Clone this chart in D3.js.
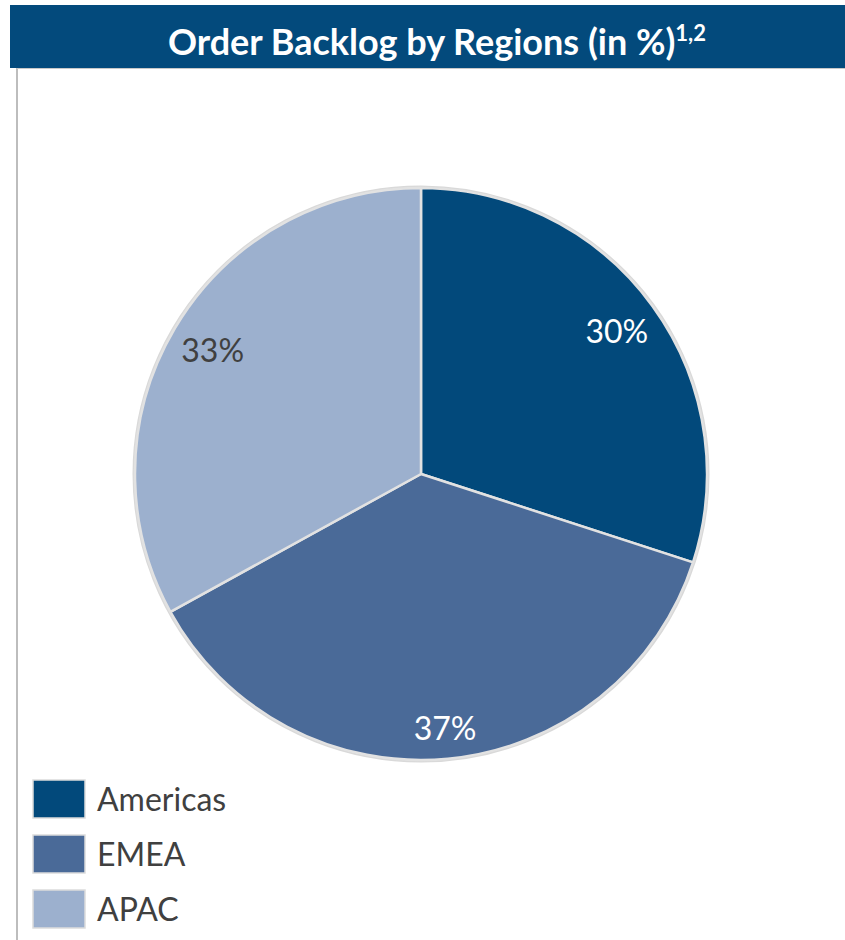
<!DOCTYPE html>
<html>
<head>
    <meta charset="utf-8">
    <title>Order Backlog by Regions</title>
    <style type="text/css">
        body { margin: 0; background: #fff; }
        svg text { font-family: "Lato", "DejaVu Sans", sans-serif; }
    </style>
</head>
<body>
<div id="chart"></div>
<script src="https://cdn.jsdelivr.net/npm/d3@7"></script>
<script type="text/javascript">
    // 数据
    var regions = ["Americas", "EMEA", "APAC"];
    var shares = [30, 37, 33];
    var colors = ["#02497b", "#4a6a98", "#9cb0ce"];
    var labelColors = ["#ffffff", "#ffffff", "#404040"];

    var width = 845, height = 940;
    var cx = 421, cy = 474, radius = 286;

    var svg = d3.select("#chart").append("svg")
        .attr("width", width)
        .attr("height", height);

    // 标题栏
    svg.append("rect")
        .attr("x", 10).attr("y", 5)
        .attr("width", width - 10).attr("height", 63)
        .attr("fill", "#034a7c");
    svg.append("line")
        .attr("x1", 17).attr("x2", 17)
        .attr("y1", 68).attr("y2", height)
        .attr("stroke", "#bdbdbd").attr("stroke-width", 2);
    svg.append("line")
        .attr("x1", 17).attr("x2", width)
        .attr("y1", 68.5).attr("y2", 68.5)
        .attr("stroke", "#c8c8c8").attr("stroke-width", 1);

    var title = svg.append("text")
        .attr("x", 437).attr("y", 55)
        .attr("text-anchor", "middle")
        .attr("fill", "#fff")
        .attr("font-weight", "bold")
        .attr("font-size", 36);
    title.append("tspan").text("Order Backlog by Regions (in %)");
    title.append("tspan").attr("font-size", 22).attr("dy", -14).text("1,2");

    // 饼图
    var pie = d3.pie().sort(null).value(function (d) { return d; });
    var arc = d3.arc().innerRadius(0).outerRadius(radius);
    var labelArc = d3.arc().innerRadius(242).outerRadius(242);

    var g = svg.append("g").attr("transform", "translate(" + cx + "," + cy + ")");

    // 外圈浅灰阴影
    g.append("circle").attr("r", radius + 1.5)
        .attr("fill", "none").attr("stroke", "#d9d9d9").attr("stroke-width", 2);

    var arcs = pie(shares);
    g.selectAll("path").data(arcs).enter().append("path")
        .attr("d", arc)
        .attr("fill", function (d, i) { return colors[i]; })
        .attr("stroke", "#e2e2e2")
        .attr("stroke-width", 2.5)
        .attr("stroke-linejoin", "round");

    g.selectAll("text.lbl").data(arcs).enter().append("text")
        .attr("class", "lbl")
        .attr("transform", function (d, i) {
            var c = labelArc.centroid(d);
            if (i === 1) { c = d3.arc().innerRadius(256).outerRadius(256).centroid(d); }
            return "translate(" + c + ")";
        })
        .attr("text-anchor", "middle")
        .attr("dy", "0.35em")
        .attr("font-size", 32)
        .attr("fill", function (d, i) { return labelColors[i]; })
        .text(function (d) { return d.data + "%"; });

    // 图例
    var legend = svg.append("g").attr("transform", "translate(33,780)");
    var item = legend.selectAll("g").data(regions).enter().append("g")
        .attr("transform", function (d, i) { return "translate(0," + i * 55 + ")"; });
    item.append("rect")
        .attr("width", 52).attr("height", 38)
        .attr("fill", function (d, i) { return colors[i]; })
        .attr("stroke", "#dcdcdc").attr("stroke-width", 1.5);
    item.append("text")
        .attr("x", 64).attr("y", 19)
        .attr("dy", "0.36em")
        .attr("font-size", 32)
        .attr("fill", "#404040")
        .text(function (d) { return d; });
</script>
</body>
</html>
